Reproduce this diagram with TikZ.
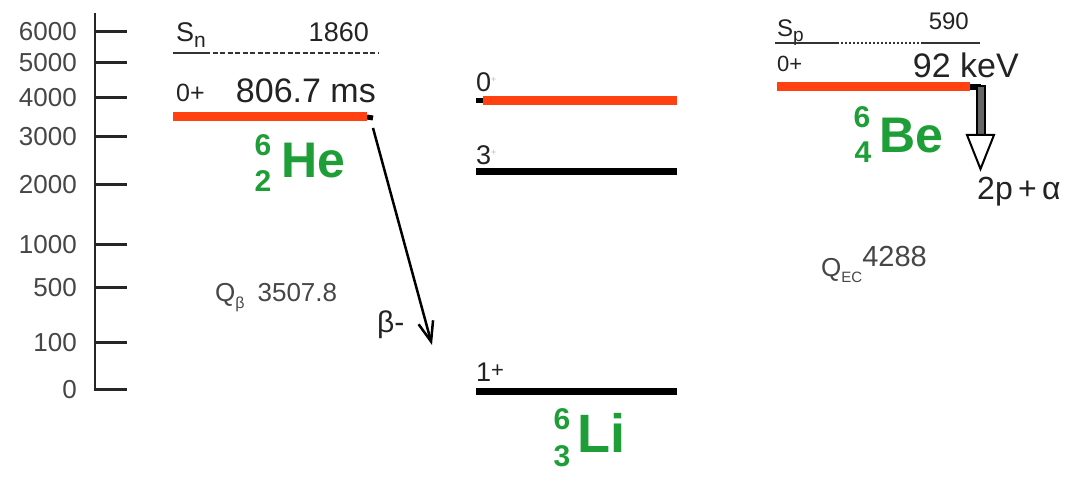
\documentclass[tikz,border=0pt]{standalone}
\usepackage{fontspec}
\setmainfont{Liberation Sans}
\usetikzlibrary{arrows.meta}
\definecolor{lvred}{RGB}{255,64,16}
\definecolor{isogreen}{RGB}{30,158,55}
\definecolor{txt}{RGB}{35,35,35}
\definecolor{txtl}{RGB}{70,70,70}
\newcommand\fs[1]{\fontsize{#1}{#1}\selectfont}
\begin{document}
\begin{tikzpicture}[x=1pt,y=-1pt,
  lbl/.style={inner sep=0pt, text=txt},
  lbll/.style={inner sep=0pt, text=txtl},
  iso/.style={inner sep=0pt, text=isogreen, font=\bfseries\fs{50}},
  isonum/.style={inner sep=0pt, text=isogreen, font=\bfseries\fs{30}},
  axisline/.style={line width=2.5pt, draw=black!85},
  tickline/.style={line width=3pt, draw=black!85},
  level/.style={line width=7pt, draw=black},
  redlevel/.style={line width=9pt, draw=lvred},
  sepline/.style={line width=2pt, draw=black!80}]
\useasboundingbox[fill=white] (0,0) rectangle (1069,478);

% ---------- energy axis ----------
\coordinate (axtop) at (95,13);
\coordinate (axbot) at (95,391);
\draw[axisline] (axtop) -- (axbot);
\foreach \v/\y in {6000/32,5000/63,4000/98,3000/137,2000/185,1000/245,500/288,100/343,0/390}{
  \node[lbll, font=\fs{26}, anchor=east] (ax\v) at (77,\y) {\v};
  \coordinate (tk\v a) at (95,\y);
  \coordinate (tk\v b) at (127,\y);
  \draw[tickline] (tk\v a) -- (tk\v b);
}

% ---------- 6He ----------
\node[lbl, font=\fs{27}, anchor=base west] (sn) at (176,42) {S\raisebox{-6pt}{\fs{21}n}};
\node[lbl, font=\fs{27}, anchor=base east] (sn1860) at (369,42) {1860};
\coordinate (snA) at (173,53);
\coordinate (snB) at (205,53);
\coordinate (snC) at (378,53);
\draw[sepline] (snA) -- (snB);
\draw[sepline, dash pattern=on 5pt off 2.5pt] (snB) -- (snC);
\node[lbl, font=\fs{25}, anchor=base west] (he0p) at (176,102) {0+};
\node[lbl, font=\fs{34}, anchor=base east] (hehl) at (376,103) {806.7 ms};
\coordinate (heL) at (173,117);
\coordinate (heR) at (367,117);
\coordinate (heE) at (373,118);
\draw[level, line width=5pt] (heR) -- (heE);
\draw[redlevel] (heL) -- (heR);
\node[isonum, anchor=center] (heA) at (263,145) {6};
\node[isonum, anchor=center] (heZ) at (263,181) {2};
\node[iso, anchor=west] (he) at (281,161) {He};
\node[lbll, font=\fs{26}, anchor=base west] (qb) at (215,302) {Q\raisebox{-7pt}{\fs{16}β}\hspace{13pt}3507.8};

% beta decay arrow
\coordinate (bstart) at (373,128);
\coordinate (bend) at (432,345);
\draw[line width=2.5pt, -{Straight Barb[length=20pt,width=15pt,line width=2.5pt]}] (bstart) -- (bend);
\node[lbl, font=\fs{30}, anchor=base west] (betam) at (377,333) {β-};

% ---------- 6Li ----------
\coordinate (li0L) at (476,101);
\coordinate (li0M) at (483,101);
\coordinate (li0R) at (677,101);
\draw[level, line width=5pt] (li0L) -- (li0M);
\draw[redlevel] (li0M) -- (li0R);
\node[lbl, font=\fs{27}, anchor=base west] (li0lab) at (476,92) {0\raisebox{9pt}{\textcolor{black!25}{\fs{9}+}}};
\coordinate (li3L) at (476,171.5);
\coordinate (li3R) at (677,171.5);
\draw[level] (li3L) -- (li3R);
\node[lbl, font=\fs{27}, anchor=base west] (li3lab) at (476,165) {3\raisebox{9pt}{\textcolor{black!25}{\fs{9}+}}};
\coordinate (li1L) at (476,392);
\coordinate (li1R) at (677,392);
\draw[level] (li1L) -- (li1R);
\node[lbl, font=\fs{27}, anchor=base west] (li1lab) at (476,382) {1\raisebox{5pt}{\fs{22}+}};
\node[isonum, anchor=center] (liA) at (562,419) {6};
\node[isonum, anchor=center] (liZ) at (562,456) {3};
\node[iso, font=\bfseries\fs{54}, anchor=west] (li) at (577,433) {Li};

% ---------- 6Be ----------
\node[lbl, font=\fs{24}, anchor=base west] (sp) at (777,37) {S\raisebox{-5pt}{\fs{19}p}};
\node[lbl, font=\fs{24}, anchor=base east] (sp590) at (969,30) {590};
\coordinate (spA) at (775,43);
\coordinate (spB) at (837,43);
\coordinate (spC) at (923,43);
\coordinate (spD) at (980,43);
\draw[sepline] (spA) -- (spB);
\draw[sepline, dash pattern=on 2pt off 2pt] (spB) -- (spC);
\draw[sepline] (spC) -- (spD);
\node[lbl, font=\fs{22}, anchor=base west] (be0p) at (777,72) {0+};
\node[lbl, font=\fs{34}, anchor=base east] (bekev) at (1019,78) {92 keV};
\coordinate (beL) at (777,87);
\coordinate (beR) at (970,87);
\coordinate (beC) at (981,87);
\draw[level, line width=6pt] (beR) -- (beC);
\draw[redlevel] (beL) -- (beR);
% hollow decay arrow
\draw[line width=2pt, fill=black!60] (977,86) rectangle (985,135);
\draw[line width=2pt, fill=white, line join=miter] (967,135) -- (994,135) -- (980.5,169) -- cycle;
\node[lbl, font=\fs{32}, anchor=base west] (be2pa) at (977,200) {2p\,+\,α};
\node[isonum, anchor=center] (beA) at (862,117) {6};
\node[isonum, anchor=center] (beZ) at (863,152) {4};
\node[iso, anchor=west] (be) at (879,136) {Be};
\node[lbll, font=\fs{26}, anchor=base west] (qec) at (821,277) {Q\raisebox{-6pt}{\fs{15}EC}\raisebox{10pt}{\fs{29}4288}};
\end{tikzpicture}
\end{document}
